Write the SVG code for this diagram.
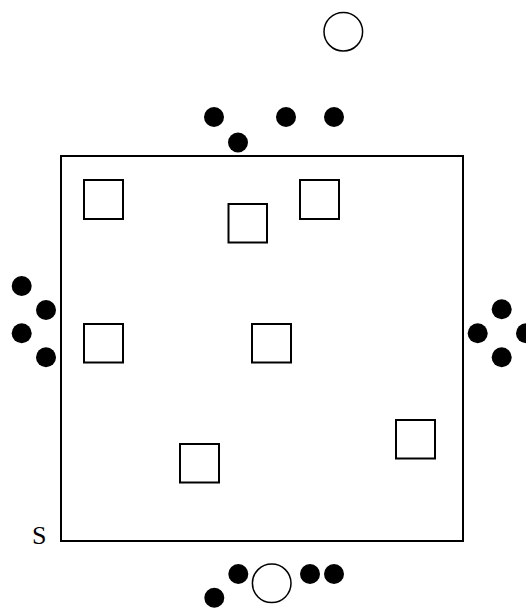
<svg xmlns="http://www.w3.org/2000/svg" width="526" height="608" viewBox="0 0 526 608">
<style>
.room{fill:none;stroke:#000;stroke-width:2}
.box{fill:#fff;stroke:#000;stroke-width:2}
.ring{fill:#fff;stroke:#000;stroke-width:1.5}
.dot{fill:#000}
.lbl{font-family:"Liberation Serif",serif;font-size:26px;fill:#000}
</style>
<rect width="526" height="608" fill="#fff"/>
<g id="room"><rect class="room" x="61" y="156" width="402" height="385"/></g>
<g id="label-s"><text class="lbl" x="32" y="544">S</text></g>
<g id="squares">
<rect id="sq1" class="box" x="84" y="180" width="39" height="39"/>
<rect id="sq2" class="box" x="228.5" y="204" width="38.5" height="38.5"/>
<rect id="sq3" class="box" x="300" y="180" width="39" height="39"/>
<rect id="sq4" class="box" x="84" y="324" width="39" height="38.5"/>
<rect id="sq5" class="box" x="252" y="324" width="39" height="38.5"/>
<rect id="sq6" class="box" x="180" y="444" width="39" height="38.5"/>
<rect id="sq7" class="box" x="396" y="420" width="39" height="38.5"/>
</g>
<g id="rings">
<circle id="ring-top" class="ring" cx="343.3" cy="31.7" r="19.3"/>
<circle id="ring-bottom" class="ring" cx="271.7" cy="583.3" r="19.3"/>
</g>
<g id="dots-top">
<circle class="dot" cx="214" cy="117" r="10"/>
<circle class="dot" cx="238" cy="142.5" r="10"/>
<circle class="dot" cx="286" cy="117" r="10"/>
<circle class="dot" cx="334" cy="117" r="10"/>
</g>
<g id="dots-left">
<circle class="dot" cx="21.7" cy="286" r="10"/>
<circle class="dot" cx="46" cy="310" r="10"/>
<circle class="dot" cx="21.7" cy="333.3" r="10"/>
<circle class="dot" cx="46" cy="357.3" r="10"/>
</g>
<g id="dots-right">
<circle class="dot" cx="501.7" cy="309.3" r="10"/>
<circle class="dot" cx="477.7" cy="333.3" r="10"/>
<circle class="dot" cx="526" cy="333.3" r="10"/>
<circle class="dot" cx="501.7" cy="357.3" r="10"/>
</g>
<g id="dots-bottom">
<circle class="dot" cx="238.3" cy="574" r="10"/>
<circle class="dot" cx="214.3" cy="597.7" r="10"/>
<circle class="dot" cx="310" cy="574" r="10"/>
<circle class="dot" cx="334" cy="574" r="10"/>
</g>
<g id="connectors"></g>
</svg>
